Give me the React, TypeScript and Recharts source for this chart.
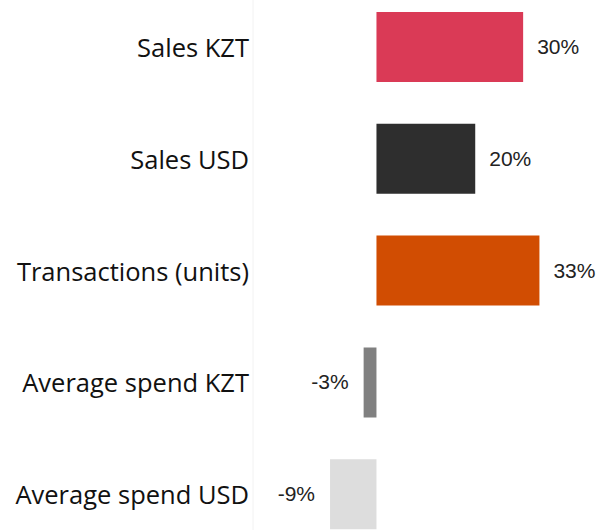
import React from 'react';
import { Bar, BarChart, Cell, LabelList, XAxis, YAxis } from 'recharts';

const categories = [
  'Sales KZT',
  'Sales USD',
  'Transactions (units)',
  'Average spend KZT',
  'Average spend USD'
];
const changes = [29.7, 20, 33, -2.6, -9.4];
const barColors = ['#DA3A56', '#2E2E2E', '#D14D02', '#808080', '#DDDDDD'];

const data = categories.map((name, i) => ({ name, value: changes[i] }));

const CategoryTick = (props: any) => {
  const { x, y, payload } = props;
  return (
    <text
      x={x + 8}
      y={y}
      dy={10}
      textAnchor="end"
      fontFamily="'Open Sans', sans-serif"
      fontSize={25.5}
      fill="#111"
    >
      {payload.value}
    </text>
  );
};

const ValueLabel = (props: any) => {
  const { x, y, width, height, value } = props;
  const left = Math.min(x, x + width);
  const right = Math.max(x, x + width);
  const positive = value >= 0;
  return (
    <text
      x={positive ? right + 14 : left - 15}
      y={y + height / 2}
      dy={7}
      textAnchor={positive ? 'start' : 'end'}
      fontFamily="'Liberation Sans', Arial, sans-serif"
      fontSize={21}
      fill="#222"
    >
      {`${Math.round(value)}%`}
    </text>
  );
};

const App: React.FC = () => {
  return (
    <div
      style={{
        position: 'absolute',
        left: 0,
        top: 0,
        width: 598,
        height: 530,
        overflow: 'hidden',
        background: '#fff'
      }}
    >
      <div style={{ marginTop: -9 }}>
        <BarChart
          width={598}
          height={559}
          data={data}
          layout="vertical"
          margin={{ top: 0, right: 24, left: 0, bottom: 0 }}
        >
          <XAxis type="number" domain={[-25, 40]} hide />
          <YAxis
            type="category"
            dataKey="name"
            width={253}
            axisLine={{ stroke: '#f2f2f2' }}
            tickLine={false}
            tickMargin={6}
            tick={<CategoryTick />}
          />
          <Bar dataKey="value" barSize={70} isAnimationActive={false}>
            {data.map((d, i) => (
              <Cell key={d.name} fill={barColors[i]} />
            ))}
            <LabelList dataKey="value" content={<ValueLabel />} />
          </Bar>
        </BarChart>
      </div>
    </div>
  );
};

export default App;
